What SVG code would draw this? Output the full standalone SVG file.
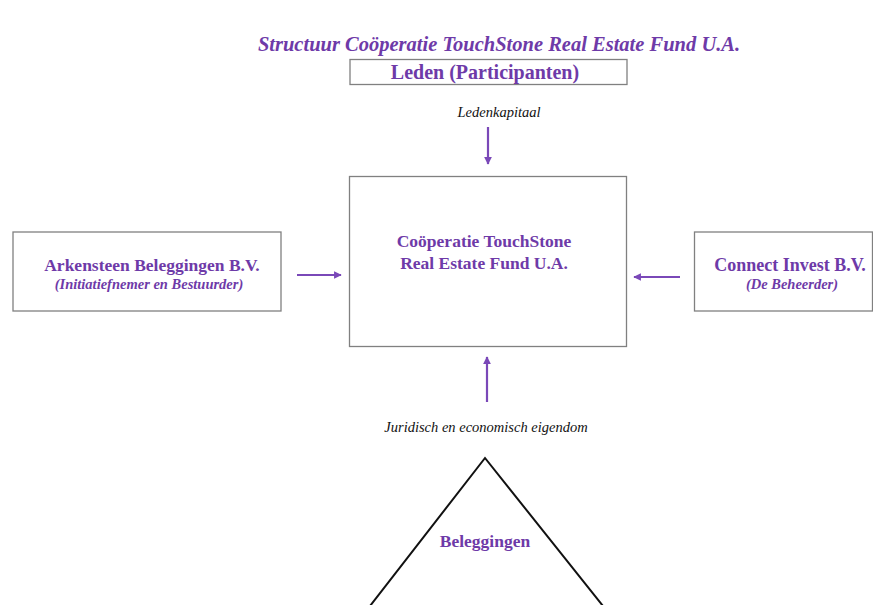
<svg xmlns="http://www.w3.org/2000/svg" width="873" height="605" viewBox="0 0 873 605">
<defs>
<style>
.box{fill:#ffffff;stroke:#808080;stroke-width:1.3}
.t{font-family:"Liberation Serif","Times New Roman",serif;font-weight:bold;fill:#6e3aa8;text-anchor:middle}
.ti{font-family:"Liberation Serif","Times New Roman",serif;font-weight:bold;font-style:italic;fill:#6e3aa8;text-anchor:middle}
.lbl{font-family:"Liberation Serif","Times New Roman",serif;font-style:italic;fill:#111;text-anchor:middle;font-size:14.5px}
.arr{stroke:#7a48b8;stroke-width:2.2;fill:none;marker-end:url(#ah)}
</style>
<marker id="ah" viewBox="0 0 10 10" refX="9" refY="5" markerWidth="3.5" markerHeight="3.5" orient="auto">
<path d="M0,0 L10,5 L0,10 z" fill="#7a48b8"/>
</marker>
</defs>
<rect width="873" height="605" fill="#ffffff"/>
<text class="ti" x="499" y="51" font-size="20.5">Structuur Coöperatie TouchStone Real Estate Fund U.A.</text>
<g id="leden">
<rect class="box" x="350" y="59.5" width="277" height="25"/>
<text class="t" x="485" y="79" font-size="20">Leden (Participanten)</text>
</g>
<g id="cooperatie">
<rect class="box" x="349.5" y="176.5" width="277" height="170"/>
<text class="t" x="484" y="247" font-size="17.5">Coöperatie TouchStone</text>
<text class="t" x="484" y="269" font-size="17.5">Real Estate Fund U.A.</text>
</g>
<g id="arkensteen">
<rect class="box" x="13" y="232" width="268" height="79"/>
<text class="t" x="152" y="271" font-size="17.5">Arkensteen Beleggingen B.V.</text>
<text class="ti" x="149" y="289" font-size="14.5">(Initiatiefnemer en Bestuurder)</text>
</g>
<g id="connect">
<rect class="box" x="694.5" y="232" width="178" height="79"/>
<text class="t" x="790" y="271" font-size="18">Connect Invest B.V.</text>
<text class="ti" x="792" y="289" font-size="14.5">(De Beheerder)</text>
</g>
<g id="beleggingen">
<polyline points="370,606 485,458 603,606" fill="none" stroke="#111" stroke-width="2"/>
<text class="t" x="485" y="547" font-size="17.5">Beleggingen</text>
</g>
<g id="connectors">
<text class="lbl" x="499" y="117">Ledenkapitaal</text>
<line class="arr" x1="488" y1="127" x2="488" y2="164"/>
<line class="arr" x1="297" y1="275" x2="341" y2="275"/>
<line class="arr" x1="680" y1="277" x2="634" y2="277"/>
<line class="arr" x1="487" y1="402" x2="487" y2="357"/>
<text class="lbl" x="486" y="432">Juridisch en economisch eigendom</text>
</g>
</svg>
